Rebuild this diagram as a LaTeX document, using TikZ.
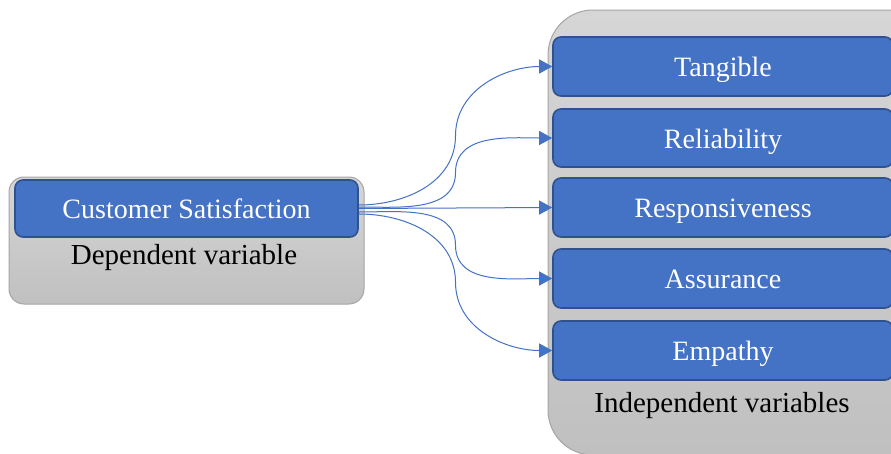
\documentclass[tikz,border=0pt]{standalone}
\usepackage{fontspec}
\setmainfont{Liberation Serif}
\usetikzlibrary{arrows.meta,calc}
\definecolor{boxblue}{HTML}{4472C4}
\definecolor{boxblueborder}{HTML}{2F528F}
\definecolor{graytop}{HTML}{D6D6D6}
\definecolor{graybot}{HTML}{C0C0C0}
\definecolor{grayborder}{HTML}{A5A5A5}
\tikzset{
  groupbox/.style={draw=grayborder, line width=1pt, top color=graytop, bottom color=graybot, inner sep=0pt},
  varbox/.style={draw=boxblueborder, line width=1.6pt, fill=boxblue, rounded corners=8pt, text=white, inner sep=0pt, text height=23pt, text depth=3pt, font=\fontsize{28}{33}\selectfont},
  grouplabel/.style={text=black, inner sep=0pt, anchor=base, font=\fontsize{29}{34}\selectfont},
  link/.style={draw=boxblue, line width=1pt, -{Triangle[length=13pt,width=14pt]}},
}
\begin{document}
\begin{tikzpicture}[x=1pt,y=1pt]
\clip (0,0) rectangle (891,-453);
\fill[white] (0,0) rectangle (891,-453);
% left group
\node[groupbox, rounded corners=15pt, minimum width=355pt, minimum height=127pt] (depgroup) at (186.5,-240.5) {};
\node[varbox, minimum width=343pt, minimum height=57pt] (cs) at (186.5,-208.5) {Customer Satisfaction};
\node[grouplabel] (deplabel) at (184,-264.5) {Dependent variable};
% right group
\node[groupbox, rounded corners=45pt, minimum width=392pt, minimum height=445pt] (indgroup) at (744,-232.5) {};
\node[varbox, minimum width=340pt, minimum height=59pt] (t1) at (723,-66.5) {Tangible};
\node[varbox, minimum width=340pt, minimum height=58pt] (t2) at (723,-138) {Reliability};
\node[varbox, minimum width=340pt, minimum height=59pt] (t3) at (723,-207.5) {Responsiveness};
\node[varbox, minimum width=340pt, minimum height=59pt] (t4) at (723,-278.5) {Assurance};
\node[varbox, minimum width=340pt, minimum height=59pt] (t5) at (723,-350.5) {Empathy};
\node[grouplabel] (indlabel) at (722,-412.5) {Independent variables};
% connectors
\coordinate (s1) at ([yshift=3.5pt]cs.east);
\coordinate (s2) at ([yshift=1.5pt]cs.east);
\coordinate (s3) at ([yshift=0pt]cs.east);
\coordinate (s4) at ([yshift=-3.5pt]cs.east);
\coordinate (s5) at ([yshift=-5.5pt]cs.east);
\draw[link] (s1) to[out=0,in=-90] ($(s1)!0.5!(t1.west)$) to[out=90,in=180] (t1.west);
\draw[link] (s2) to[out=0,in=-90] ($(s2)!0.5!(t2.west)$) to[out=90,in=180] (t2.west);
\draw[link] (s3) -- (t3.west);
\draw[link] (s4) to[out=0,in=90] ($(s4)!0.5!(t4.west)$) to[out=-90,in=180] (t4.west);
\draw[link] (s5) to[out=0,in=90] ($(s5)!0.5!(t5.west)$) to[out=-90,in=180] (t5.west);
\end{tikzpicture}
\end{document}
